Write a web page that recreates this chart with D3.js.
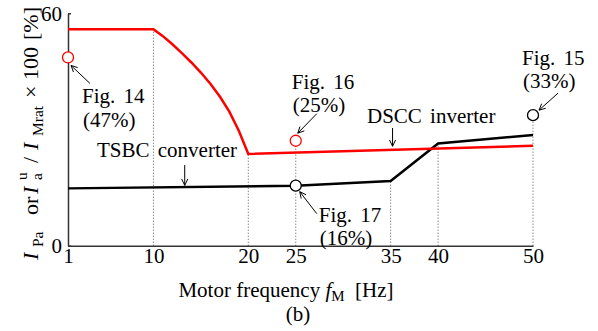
<!DOCTYPE html>
<html>
<head>
<meta charset="utf-8">
<script src="https://cdn.jsdelivr.net/npm/d3@7"></script>
<style>
  body { margin: 0; background: #fff; }
  text { font-family: "Liberation Serif", "Times New Roman", serif; fill: #000; }
</style>
</head>
<body>
<div id="chart"></div>
<script>
// data
var redFreq = [1, 10, 11, 12, 13, 14, 15, 16, 17, 18, 19, 20, 50];
var redValue = [55.9, 55.9, 54.1, 52.0, 49.7, 47.3, 44.7, 41.8, 38.5, 34.6, 29.7, 23.7, 25.8];
var blackFreq = [1, 25, 35, 40, 50];
var blackValue = [14.8, 15.5, 16.7, 26.4, 28.6];
var xTicks = [1, 10, 20, 25, 35, 40, 50];
var yTicks = [0, 60];
var guideFreq = [10, 20, 25, 35, 40, 50];
var guideTop = [55.9, 23.7, 27.1, 16.7, 26.4, 33.7];
var markFreq = [1, 25, 50, 25];
var markValue = [48.6, 27.1, 33.7, 15.5];
var markColor = ["red", "red", "black", "black"];
var markName = ["Fig. 14", "Fig. 16", "Fig. 15", "Fig. 17"];
var markPct = ["(47%)", "(25%)", "(33%)", "(16%)"];

var width = 598, height = 331, fs = 21;
var svg = d3.select("#chart").append("svg")
    .attr("width", width)
    .attr("height", height);

var x = d3.scaleLinear().domain([1, 50]).range([68, 533]);
var y = d3.scaleLinear().domain([0, 60]).range([245.7, 13.3]);

// dotted guides
svg.selectAll(".guide")
    .data(guideFreq)
    .enter().append("line")
    .attr("x1", function (d) { return x(d); })
    .attr("x2", function (d) { return x(d); })
    .attr("y1", y(0))
    .attr("y2", function (d, i) { return y(guideTop[i]); })
    .attr("stroke", "#555")
    .attr("stroke-width", 1)
    .attr("stroke-dasharray", "1,2");

// axes
var xAxis = svg.append("g")
    .attr("transform", "translate(0," + y(0) + ")")
    .call(d3.axisBottom(x).tickValues(xTicks).tickSizeInner(0).tickSizeOuter(0).tickPadding(2));
var yAxis = svg.append("g")
    .attr("transform", "translate(" + x(1) + ",0)")
    .call(d3.axisLeft(y).tickValues(yTicks).tickSizeInner(-3).tickSizeOuter(0).tickPadding(6));
[xAxis, yAxis].forEach(function (g) {
    g.select(".domain").attr("stroke", "#333").attr("stroke-width", 1.5);
    g.selectAll(".tick line").attr("stroke", "#333").attr("stroke-width", 1.5);
    g.selectAll(".tick text").attr("font-size", fs).attr("fill", "#000");
});
yAxis.selectAll(".tick text").attr("dy", "0.32em");

// curves
var line = d3.line()
    .x(function (d) { return x(d[0]); })
    .y(function (d) { return y(d[1]); });

svg.append("path")
    .attr("d", line(d3.zip(blackFreq, blackValue)))
    .attr("fill", "none")
    .attr("stroke", "#000")
    .attr("stroke-width", 2.5);

svg.append("path")
    .attr("d", line(d3.zip(redFreq, redValue)))
    .attr("fill", "none")
    .attr("stroke", "#f00")
    .attr("stroke-width", 2.5);

// arrow helper
function arrow(x1, y1, x2, y2) {
    var a = Math.atan2(y2 - y1, x2 - x1), h = 7, s = 0.45;
    var g = svg.append("g").attr("stroke", "#000").attr("stroke-width", 1).attr("fill", "none");
    g.append("line").attr("x1", x1).attr("y1", y1).attr("x2", x2).attr("y2", y2);
    g.append("path").attr("d",
        "M" + (x2 - h * Math.cos(a - s)) + "," + (y2 - h * Math.sin(a - s)) +
        "L" + x2 + "," + y2 +
        "L" + (x2 - h * Math.cos(a + s)) + "," + (y2 - h * Math.sin(a + s)));
}

function label(px, py, str) {
    return svg.append("text").attr("x", px).attr("y", py)
        .attr("font-size", fs).attr("word-spacing", 3).text(str);
}

// markers with labels: [tip dx, tip dy, tail dx, tail dy, text dx, text dy, line gap]
var markLayout = [
    [3, 8, 22, 26, 14, 46, 24],
    [2, -7.5, 21, -27, -4, -52, 23],
    [6, -5, 25, -22, -11, -50, 23],
    [4, 6, 21, 28, 23, 36, 23]
];
markFreq.forEach(function (f, i) {
    var cx = x(f), cy = y(markValue[i]), L = markLayout[i];
    arrow(cx + L[2], cy + L[3], cx + L[0], cy + L[1]);
    svg.append("circle")
        .attr("cx", cx).attr("cy", cy).attr("r", 5.5)
        .attr("fill", "#fff")
        .attr("stroke", markColor[i] === "red" ? "#f00" : "#000")
        .attr("stroke-width", 1.3);
    label(cx + L[4], cy + L[5], markName[i]);
    label(cx + L[4] + 1, cy + L[5] + L[6], markPct[i]);
});

// series labels
label(97, 157, "TSBC converter");
arrow(x(13.3), 165, x(13.3), y(blackValue[0]) - 3);
label(367, 123, "DSCC inverter");
arrow(x(35.2), 128, x(35.2), y(24.9) - 3);

// axis titles
var xt = svg.append("text").attr("x", 286).attr("y", 297).attr("font-size", fs)
    .attr("text-anchor", "middle").attr("xml:space", "preserve");
xt.append("tspan").text("Motor frequency ");
xt.append("tspan").attr("font-style", "italic").text("f");
xt.append("tspan").attr("font-size", 15).attr("dy", 4).text("M");
xt.append("tspan").attr("dy", -4).text("  [Hz]");

svg.append("text").attr("x", 298).attr("y", 321).attr("font-size", fs)
    .attr("text-anchor", "middle").text("(b)");

// y title, pieces placed along the rotated baseline
var yt = svg.append("text").attr("transform", "translate(38,260) rotate(-90)")
    .attr("font-size", 22);
var ytPieces = [
    { t: "I", x: 0, dy: 0, it: true },
    { t: "Pa", x: 13, dy: 5, sub: true },
    { t: "or", x: 45, dy: 0 },
    { t: "I", x: 66, dy: 0, it: true },
    { t: "u", x: 80, dy: -11, sub: true },
    { t: "a", x: 80, dy: 4, sub: true },
    { t: "/", x: 97, dy: 0 },
    { t: "I", x: 110, dy: 0, it: true },
    { t: "Mrat", x: 124, dy: 5, sub: true },
    { t: "×", x: 162, dy: 0 },
    { t: "100", x: 180, dy: 0 },
    { t: "[%]", x: 220, dy: 0 }
];
ytPieces.forEach(function (p) {
    yt.append("tspan")
        .attr("x", p.x).attr("y", p.dy)
        .attr("font-size", p.sub ? 15.5 : 22)
        .attr("font-style", p.it ? "italic" : null)
        .text(p.t);
});
</script>
</body>
</html>
